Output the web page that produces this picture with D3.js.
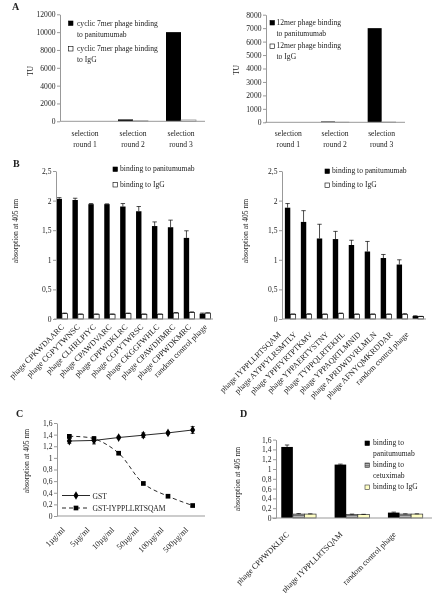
<!DOCTYPE html>
<html><head><meta charset="utf-8">
<script src="https://cdn.jsdelivr.net/npm/d3@7"></script>
<style>
body{margin:0;background:#fff}
svg{display:block;will-change:transform}
text{font-family:"Liberation Serif","Times New Roman",serif;fill:#222}
</style>
</head><body>
<svg id="c" width="434" height="593"></svg>
<script>
// ---------------- DATA ----------------
const rounds = ["round 1", "round 2", "round 3"];
const cyc7Pan = [0, 210, 10000];
const cyc7IgG = [0, 60, 150];
const tuTicks7 = [0, 2000, 4000, 6000, 8000, 10000, 12000];
const m12Pan = [0, 60, 7000];
const m12IgG = [0, 10, 20];
const tuTicks12 = [0, 1000, 2000, 3000, 4000, 5000, 6000, 7000, 8000];

const cycPhages = ["phage CPKWDAARC", "phage CGPYTWNSC", "phage CLHRLPIYC", "phage CPAWDVARC",
  "phage CPPWDKLRC", "phage CGPYTWRSC", "phage CKGGFWHLC", "phage CPAWDHMRC", "phage CPPWDKMRC",
  "random control phage"];
const cycPan = [2.03, 2.01, 1.94, 1.94, 1.90, 1.82, 1.57, 1.55, 1.37, 0.09];
const cycPanErr = [0.02, 0.03, 0.01, 0.005, 0.05, 0.08, 0.07, 0.12, 0.12, 0.01];
const cycIgG = [0.09, 0.08, 0.08, 0.08, 0.09, 0.08, 0.08, 0.10, 0.11, 0.10];
const cycIgGErr = [0.01, 0.005, 0.005, 0.005, 0.01, 0.005, 0.005, 0.01, 0.01, 0.005];

const linPhages = ["phage IYPPLLRTSQAM", "phage AYPPYLRSMTLY", "phage YPPFYRTPTKMV", "phage YPPAERTYSTNY",
  "phage TYPPQLRTEKHL", "phage YPPAQRTLMNID", "phage APRDWDVRLMLN", "phage AFNYQMKRDDAR",
  "random control phage"];
const linPan = [1.88, 1.64, 1.36, 1.35, 1.25, 1.14, 1.03, 0.92, 0.05];
const linPanErr = [0.07, 0.19, 0.24, 0.13, 0.08, 0.17, 0.06, 0.08, 0.005];
const linIgG = [0.08, 0.08, 0.08, 0.09, 0.08, 0.08, 0.08, 0.08, 0.04];
const linIgGErr = [0.005, 0.01, 0.005, 0.01, 0.005, 0.005, 0.005, 0.01, 0.005];
const absTicksB = [0, 0.5, 1, 1.5, 2, 2.5];

const concLabels = ["1µg/ml", "5µg/ml", "10µg/ml", "50µg/ml", "100µg/ml", "500µg/ml"];
const gst = [1.29, 1.30, 1.35, 1.39, 1.43, 1.48];
const gstErr = [0.04, 0.06, 0.02, 0.04, 0.02, 0.06];
const gstPep = [1.37, 1.33, 1.08, 0.56, 0.34, 0.18];
const gstPepErr = [0.02, 0.03, 0.02, 0.02, 0.02, 0.02];
const absTicksCD = [0, 0.2, 0.4, 0.6, 0.8, 1, 1.2, 1.4, 1.6];

const dPhages = ["phage CPPWDKLRC", "phage IYPPLLRTSQAM", "random control phage"];
const dPan = [1.45, 1.09, 0.11];
const dPanErr = [0.04, 0.01, 0.01];
const dCetux = [0.08, 0.07, 0.08];
const dCetuxErr = [0.01, 0.01, 0.005];
const dIgG = [0.08, 0.07, 0.08];
const dIgGErr = [0.005, 0.005, 0.005];

// ---------------- DRAWING ----------------
const svg = d3.select("#c");
const FS = 7.6, FSR = 8.1;
const axisCol = "#999";
const comma = v => String(v).replace(".", ",");

const defs = svg.append("defs");
const pat = defs.append("pattern").attr("id", "stripe").attr("patternUnits", "userSpaceOnUse")
  .attr("width", 4).attr("height", 2.6);
pat.append("rect").attr("width", 4).attr("height", 2.6).attr("fill", "#b5b5b5");
pat.append("rect").attr("width", 4).attr("height", 0.9).attr("fill", "#555");

function yAxis(y, ax, ticks, fmt) {
  const g = svg.append("g").attr("transform", `translate(${ax},0)`)
    .call(d3.axisLeft(y).tickValues(ticks).tickSize(3).tickSizeOuter(0).tickPadding(1.5).tickFormat(fmt));
  g.selectAll("path,line").attr("stroke", axisCol);
  g.selectAll("text").attr("font-size", FS).attr("font-family", "Liberation Serif").attr("fill", "#333");
  return g;
}
function xLine(x0, x1, yy) {
  svg.append("line").attr("x1", x0).attr("x2", x1).attr("y1", yy).attr("y2", yy).attr("stroke", axisCol);
}
function txt(s, x, y, opts = {}) {
  const t = svg.append("text").attr("x", x).attr("y", y).attr("font-size", opts.fs || FS).text(s);
  if (opts.anchor) t.attr("text-anchor", opts.anchor);
  if (opts.bold) t.attr("font-weight", "bold");
  if (opts.rot !== undefined) t.attr("transform", `rotate(${opts.rot},${x},${y})`);
  return t;
}
function ylabel(s, x, cy) { txt(s, x, cy, {anchor: "middle", rot: -90}); }
function sq(x, y, fill, stroke) {
  svg.append("rect").attr("x", x).attr("y", y).attr("width", 4.5).attr("height", 4.5)
    .attr("fill", fill).attr("stroke", stroke || "#000").attr("stroke-width", 0.6);
}

function barPanel(o) {
  const x = d3.scaleBand().domain(o.cats).range(o.xr);
  const y = d3.scaleLinear().domain([0, o.ymax]).range(o.yr);
  const n = o.series.length;
  o.series.forEach((s, si) => {
    o.cats.forEach((c, i) => {
      const bx = x(c) + x.bandwidth() / 2 - n * o.bw / 2 + si * o.bw;
      const v = s.v[i];
      svg.append("rect").attr("x", bx).attr("width", o.bw)
        .attr("y", y(v)).attr("height", Math.max(0, y(0) - y(v)))
        .attr("fill", s.fill).attr("stroke", s.stroke || "none").attr("stroke-width", 0.7);
      if (s.e) {
        const cx = bx + o.bw / 2, top = y(v + s.e[i]);
        svg.append("line").attr("x1", cx).attr("x2", cx).attr("y1", y(v)).attr("y2", top).attr("stroke", "#000").attr("stroke-width", 0.7);
        svg.append("line").attr("x1", cx - 2.2).attr("x2", cx + 2.2).attr("y1", top).attr("y2", top).attr("stroke", "#000").attr("stroke-width", 0.7);
      }
    });
  });
  xLine(o.xr[0], o.xr[1], y(0));
  yAxis(y, o.ax, o.ticks, o.fmt);
  return {x, y};
}

// ---- Panel A left ----
txt("A", 12, 10, {bold: true, fs: 10});
let pa = barPanel({cats: rounds, xr: [61, 205], yr: [121.3, 14.3], ymax: 12000, ax: 60, bw: 15,
  ticks: tuTicks7, fmt: d3.format("d"),
  series: [{v: cyc7Pan, fill: "#000"}, {v: cyc7IgG, fill: "#fff", stroke: "#888"}]});
rounds.forEach(r => {
  const cx = pa.x(r) + pa.x.bandwidth() / 2;
  txt("selection", cx, 136, {anchor: "middle"});
  txt(r, cx, 146.5, {anchor: "middle"});
});
ylabel("TU", 33, 71);
sq(68.5, 21, "#000");
txt("cyclic 7mer phage binding", 77, 25.7);
txt("to panitumumab", 77, 36.5);
sq(68.5, 46.5, "#fff");
txt("cyclic 7mer phage binding", 77, 50.7);
txt("to IgG", 77, 61.7);

// ---- Panel A right ----
let pa2 = barPanel({cats: rounds, xr: [265, 405], yr: [122.3, 14.7], ymax: 8000, ax: 266, bw: 14,
  ticks: tuTicks12, fmt: d3.format("d"),
  series: [{v: m12Pan, fill: "#000"}, {v: m12IgG, fill: "#fff", stroke: "#888"}]});
rounds.forEach(r => {
  const cx = pa2.x(r) + pa2.x.bandwidth() / 2;
  txt("selection", cx, 136, {anchor: "middle"});
  txt(r, cx, 146.5, {anchor: "middle"});
});
ylabel("TU", 239, 70);
sq(270, 20.5, "#000");
txt("12mer phage binding", 276.5, 25);
txt("to panitumumab", 276.5, 35.5);
sq(270, 44, "#fff");
txt("12mer phage binding", 276.5, 48.3);
txt("to IgG", 276.5, 58.8);

// ---- Panel B left ----
txt("B", 13, 167, {bold: true, fs: 10});
let pb = barPanel({cats: cycPhages, xr: [54, 213], yr: [319, 171], ymax: 2.5, ax: 56, bw: 5.4,
  ticks: absTicksB, fmt: comma,
  series: [{v: cycPan, e: cycPanErr, fill: "#000"}, {v: cycIgG, e: cycIgGErr, fill: "#fff", stroke: "#000"}]});
cycPhages.forEach(c => {
  const cx = pb.x(c) + pb.x.bandwidth() / 2;
  txt(c, cx + 2.5, 327.5, {anchor: "end", rot: -45, fs: FSR});
});
ylabel("absorption at 405 nm", 18, 231);
sq(113, 167, "#000");
txt("binding to panitumumab", 120, 171);
sq(113, 182.5, "#fff");
txt("binding to IgG", 120, 186.5);

// ---- Panel B right ----
let pb2 = barPanel({cats: linPhages, xr: [282.3, 426], yr: [319, 171], ymax: 2.5, ax: 282, bw: 5.4,
  ticks: absTicksB, fmt: comma,
  series: [{v: linPan, e: linPanErr, fill: "#000"}, {v: linIgG, e: linIgGErr, fill: "#fff", stroke: "#000"}]});
linPhages.forEach(c => {
  const cx = pb2.x(c) + pb2.x.bandwidth() / 2;
  txt(c, cx - 9, 335, {anchor: "end", rot: -45, fs: FSR});
});
ylabel("absorption at 405 nm", 248, 231);
sq(325, 169, "#000");
txt("binding to panitumumab", 332, 173);
sq(325, 183, "#fff");
txt("binding to IgG", 332, 187);

// ---- Panel C ----
txt("C", 16, 417, {bold: true, fs: 10});
const xc = d3.scalePoint().domain(concLabels).range([57, 205]).padding(0.5);
const yc = d3.scaleLinear().domain([0, 1.6]).range([516, 423]);
xLine(57, 205, yc(0));
yAxis(yc, 57, absTicksCD, comma);
ylabel("absorption at 405 nm", 29, 461);
function errs(vals, e) {
  vals.forEach((v, i) => {
    const cx = xc(concLabels[i]);
    svg.append("line").attr("x1", cx).attr("x2", cx).attr("y1", yc(v - e[i])).attr("y2", yc(v + e[i])).attr("stroke", "#000").attr("stroke-width", 0.7);
    [v - e[i], v + e[i]].forEach(w => svg.append("line").attr("x1", cx - 2).attr("x2", cx + 2).attr("y1", yc(w)).attr("y2", yc(w)).attr("stroke", "#000").attr("stroke-width", 0.7));
  });
}
errs(gst, gstErr);
errs(gstPep, gstPepErr);
svg.append("path").datum(gst).attr("fill", "none").attr("stroke", "#111").attr("stroke-width", 0.9)
  .attr("d", d3.line().x((d, i) => xc(concLabels[i])).y(d => yc(d)));
svg.append("path").datum(gstPep).attr("fill", "none").attr("stroke", "#111").attr("stroke-width", 0.9)
  .attr("stroke-dasharray", "4,3")
  .attr("d", d3.line().x((d, i) => xc(concLabels[i])).y(d => yc(d)).curve(d3.curveCatmullRom.alpha(0.5)));
const diamond = d3.symbol().type(d3.symbolDiamond).size(22);
const square = d3.symbol().type(d3.symbolSquare).size(22);
gst.forEach((v, i) => svg.append("path").attr("d", diamond).attr("transform", `translate(${xc(concLabels[i])},${yc(v)})`).attr("fill", "#000"));
gstPep.forEach((v, i) => svg.append("path").attr("d", square).attr("transform", `translate(${xc(concLabels[i])},${yc(v)})`).attr("fill", "#000"));
concLabels.forEach(c => txt(c, xc(c) - 4, 530.5, {anchor: "end", rot: -45, fs: FSR}));
// legend C
svg.append("line").attr("x1", 62).attr("x2", 90).attr("y1", 495.5).attr("y2", 495.5).attr("stroke", "#111").attr("stroke-width", 0.9);
svg.append("path").attr("d", diamond).attr("transform", "translate(76,495.5)").attr("fill", "#000");
txt("GST", 92.5, 498.5);
svg.append("line").attr("x1", 62).attr("x2", 90).attr("y1", 508).attr("y2", 508).attr("stroke", "#111").attr("stroke-width", 0.9).attr("stroke-dasharray", "4,3");
svg.append("path").attr("d", square).attr("transform", "translate(76,508)").attr("fill", "#000");
txt("GST-IYPPLLRTSQAM", 92.5, 511);

// ---- Panel D ----
txt("D", 240, 417, {bold: true, fs: 10});
let pd = barPanel({cats: dPhages, xr: [272, 432], yr: [518, 439.6], ymax: 1.6, ax: 276, bw: 11.6,
  ticks: absTicksCD, fmt: comma,
  series: [{v: dPan, e: dPanErr, fill: "#000"}, {v: dCetux, e: dCetuxErr, fill: "url(#stripe)", stroke: "#333"},
           {v: dIgG, e: dIgGErr, fill: "#ffffc4", stroke: "#333"}]});
dPhages.forEach(c => {
  const cx = pd.x(c) + pd.x.bandwidth() / 2;
  txt(c, cx - 9, 535, {anchor: "end", rot: -45, fs: FSR});
});
ylabel("absorption at 405 nm", 240, 479);
sq(365, 441, "#000");
txt("binding to", 373, 445);
txt("panitumumab", 373, 456);
sq(365, 463, "url(#stripe)", "#333");
txt("binding to", 373, 467);
txt("cetuximab", 373, 477.5);
sq(365, 485, "#ffffc4", "#333");
txt("binding to IgG", 373, 489);
</script>
</body></html>
